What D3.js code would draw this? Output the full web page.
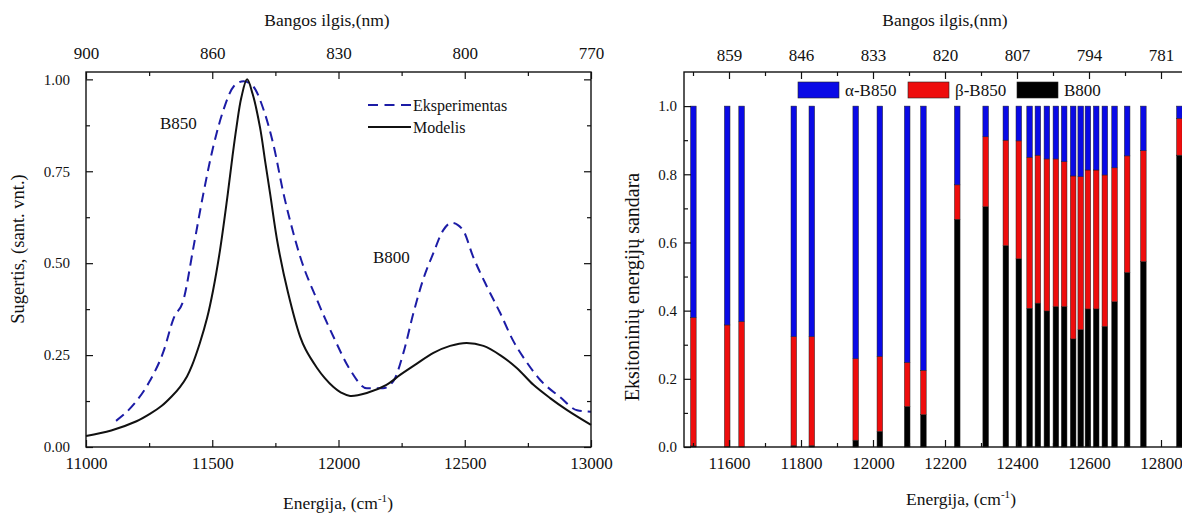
<!DOCTYPE html>
<html>
<head>
<meta charset="utf-8">
<script src="https://cdn.jsdelivr.net/npm/d3@7"></script>
<style>
  body { margin: 0; background: #fff; }
  svg text { font-family: "Times New Roman", Times, "Liberation Serif", "DejaVu Serif", "Noto Serif", serif; fill: #111; }
</style>
</head>
<body>
<svg id="mainSVG" width="1182" height="514"></svg>
<script>
// left panel: absorption spectra
let modelE = [11000, 11100, 11200, 11253, 11300, 11340, 11372, 11400, 11420, 11451, 11480, 11503, 11530, 11558, 11580, 11596, 11615, 11638, 11660, 11689, 11710, 11729, 11760, 11800, 11848, 11870, 11915, 11945, 11980, 12010, 12046, 12112, 12190, 12244, 12309, 12376, 12442, 12507, 12574, 12640, 12706, 12772, 12838, 12904, 13000]
let modelA = [0.030, 0.045, 0.070, 0.090, 0.112, 0.138, 0.163, 0.192, 0.222, 0.283, 0.352, 0.425, 0.532, 0.670, 0.790, 0.870, 0.950, 1.000, 0.960, 0.870, 0.775, 0.690, 0.550, 0.420, 0.300, 0.265, 0.215, 0.188, 0.163, 0.148, 0.139, 0.147, 0.169, 0.196, 0.226, 0.256, 0.275, 0.283, 0.275, 0.250, 0.215, 0.169, 0.133, 0.101, 0.060]
let expE = [11119, 11188, 11253, 11307, 11347, 11386, 11426, 11465, 11505, 11545, 11584, 11624, 11663, 11703, 11743, 11782, 11822, 11848, 11915, 11980, 12046, 12112, 12176, 12218, 12257, 12297, 12335, 12376, 12415, 12449, 12493, 12533, 12588, 12640, 12691, 12747, 12798, 12877, 12945, 13000]
let expA = [0.071, 0.115, 0.180, 0.260, 0.350, 0.400, 0.545, 0.690, 0.820, 0.918, 0.980, 0.995, 0.980, 0.918, 0.820, 0.690, 0.580, 0.518, 0.400, 0.300, 0.210, 0.160, 0.160, 0.180, 0.256, 0.365, 0.455, 0.528, 0.590, 0.610, 0.590, 0.518, 0.436, 0.365, 0.290, 0.229, 0.183, 0.136, 0.100, 0.096]
let leftTopTicks = [11000, 11500, 12000, 12500, 13000]
let leftTopLabels = ['900', '860', '830', '800', '770']

// right panel: exciton composition
let barE = [11501, 11595, 11635, 11780, 11830, 11952, 12019, 12095, 12140, 12234, 12313, 12369, 12405, 12435, 12458, 12483, 12508, 12531, 12556, 12577, 12597, 12620, 12644, 12671, 12706, 12751, 12851]
let b800 = [0.003, 0, 0, 0.004, 0.004, 0.020, 0.046, 0.119, 0.095, 0.668, 0.705, 0.591, 0.552, 0.407, 0.422, 0.399, 0.412, 0.412, 0.317, 0.344, 0.405, 0.405, 0.354, 0.426, 0.512, 0.544, 0.856]
let betaB850 = [0.377, 0.358, 0.368, 0.320, 0.320, 0.239, 0.220, 0.129, 0.130, 0.101, 0.205, 0.309, 0.346, 0.443, 0.434, 0.446, 0.433, 0.425, 0.478, 0.449, 0.4075, 0.4075, 0.444, 0.393, 0.342, 0.325, 0.108]
let alphaB850 = [0.620, 0.642, 0.632, 0.676, 0.676, 0.741, 0.734, 0.752, 0.775, 0.231, 0.090, 0.100, 0.102, 0.150, 0.144, 0.155, 0.155, 0.163, 0.205, 0.207, 0.1875, 0.1875, 0.202, 0.181, 0.146, 0.131, 0.036]
let rightTopTicks = [11600, 11800, 12000, 12200, 12400, 12600, 12800]
let rightTopLabels = ['859', '846', '833', '820', '807', '794', '781']

const SERIF = '"Times New Roman", Times, "Liberation Serif", "DejaVu Serif", "Noto Serif", serif'
let svg = d3.select('#mainSVG')

function frame(g, x0, x1, y0, y1){
    g.append('rect')
        .attr('x', x0).attr('y', y0)
        .attr('width', x1 - x0).attr('height', y1 - y0)
        .attr('fill', 'none').attr('stroke', '#111').attr('stroke-width', 1.4)
}

function cleanAxis(sel, fontSize){
    sel.attr('font-family', SERIF)
    sel.select('.domain').remove()
    sel.selectAll('.tick line').attr('stroke', '#111').attr('stroke-width', 1.2)
    sel.selectAll('.tick text').attr('font-size', fontSize)
}

function leftSetup(){
    let g = svg.append('g').attr('id', 'spectra')
    let x = d3.scaleLinear().domain([11000, 13000]).range([86, 591])
    let y = d3.scaleLinear().domain([0, 1.02]).range([447, 72])
    let [x0, x1] = x.range(), [y1, y0] = y.range()
    let minorX = d3.range(11250, 13000, 500)
    let minorY = d3.range(0.125, 1, 0.25)

    g.append('g').attr('transform', `translate(0,${y1})`)
        .call(d3.axisBottom(x).tickValues([11000, 11500, 12000, 12500, 13000]).tickFormat(d3.format('d')).tickSize(-7).tickPadding(10))
        .call(a => cleanAxis(a, 17))
    g.append('g').attr('transform', `translate(0,${y1})`)
        .call(d3.axisBottom(x).tickValues(minorX).tickFormat('').tickSize(-4))
        .call(a => cleanAxis(a, 17))
    g.append('g').attr('transform', `translate(0,${y0})`)
        .call(d3.axisTop(x).tickValues(leftTopTicks).tickFormat((d, i) => leftTopLabels[i]).tickSize(-7).tickPadding(13))
        .call(a => cleanAxis(a, 17))
    g.append('g').attr('transform', `translate(0,${y0})`)
        .call(d3.axisTop(x).tickValues(minorX).tickFormat('').tickSize(-4))
        .call(a => cleanAxis(a, 17))
    g.append('g').attr('transform', `translate(${x0},0)`)
        .call(d3.axisLeft(y).tickValues([0, 0.25, 0.5, 0.75, 1]).tickFormat(d3.format('.2f')).tickSize(-7).tickPadding(16))
        .call(a => cleanAxis(a, 15))
    g.append('g').attr('transform', `translate(${x0},0)`)
        .call(d3.axisLeft(y).tickValues(minorY).tickFormat('').tickSize(-4))
        .call(a => cleanAxis(a, 15))
    g.append('g').attr('transform', `translate(${x1},0)`)
        .call(d3.axisRight(y).tickValues([0, 0.25, 0.5, 0.75, 1]).tickFormat('').tickSize(-7))
        .call(a => cleanAxis(a, 15))
    g.append('g').attr('transform', `translate(${x1},0)`)
        .call(d3.axisRight(y).tickValues(minorY).tickFormat('').tickSize(-4))
        .call(a => cleanAxis(a, 15))

    g.append('path')
        .datum(expE.map((e, i) => [e, expA[i]]))
        .attr('fill', 'none').attr('stroke', '#1c1ca6').attr('stroke-width', 2)
        .attr('stroke-dasharray', '10,6')
        .attr('d', d3.line().x(d => x(d[0])).y(d => y(d[1])).curve(d3.curveMonotoneX))
    g.append('path')
        .datum(modelE.map((e, i) => [e, modelA[i]]))
        .attr('fill', 'none').attr('stroke', '#111').attr('stroke-width', 2)
        .attr('d', d3.line().x(d => x(d[0])).y(d => y(d[1])).curve(d3.curveCatmullRom.alpha(0.5)))

    frame(g, x0, x1, y0, y1)

    // legend
    g.append('line').attr('x1', 368).attr('x2', 411).attr('y1', 105).attr('y2', 105)
        .attr('stroke', '#1c1ca6').attr('stroke-width', 2).attr('stroke-dasharray', '10,6.5')
    g.append('line').attr('x1', 368).attr('x2', 411).attr('y1', 127).attr('y2', 127)
        .attr('stroke', '#111').attr('stroke-width', 2)
    g.append('text').attr('x', 413).attr('y', 111).attr('font-size', 16).text('Eksperimentas')
    g.append('text').attr('x', 413).attr('y', 133).attr('font-size', 16).text('Modelis')

    g.append('text').attr('x', 160).attr('y', 129).attr('font-size', 17).text('B850')
    g.append('text').attr('x', 373).attr('y', 263).attr('font-size', 17).text('B800')

    // titles
    g.append('text').attr('x', 327).attr('y', 26).attr('text-anchor', 'middle').attr('font-size', 17.5).text('Bangos ilgis,(nm)')
    let bt = g.append('text').attr('x', 338).attr('y', 509).attr('text-anchor', 'middle').attr('font-size', 17.5)
    bt.append('tspan').text('Energija, (cm')
    bt.append('tspan').attr('dy', -7).attr('font-size', 11).text('-1')
    bt.append('tspan').attr('dy', 7).text(')')
    g.append('text').attr('transform', 'translate(24,249) rotate(-90)')
        .attr('text-anchor', 'middle').attr('font-size', 18.5).text('Sugertis, (sant. vnt.)')
}

function rightSetup(){
    let g = svg.append('g').attr('id', 'composition')
    let x = d3.scaleLinear().domain([11475, 12875]).range([684, 1188])
    let y = d3.scaleLinear().domain([0, 1.1]).range([447, 72])
    let [x0, x1] = x.range(), [y1, y0] = y.range()
    let minorX = d3.range(11500, 12900, 200)
    let minorY = d3.range(0.1, 1.05, 0.2)

    let rows = barE.map((e, i) => ({e, b800: b800[i], beta: betaB850[i], alpha: alphaB850[i]}))
    let keys = ['b800', 'beta', 'alpha']
    let colors = {b800: '#000000', beta: '#ee0d0d', alpha: '#0a0ae6'}
    let stack = d3.stack().keys(keys)(rows)
    let bw = 5.6

    g.selectAll('g.layer')
        .data(stack)
        .join('g').attr('class', 'layer')
        .attr('fill', d => colors[d.key])
        .selectAll('rect')
        .data(d => d)
        .join('rect')
        .attr('x', d => x(d.data.e) - bw / 2)
        .attr('width', bw)
        .attr('y', d => y(d[1]))
        .attr('height', d => y(d[0]) - y(d[1]))
        .attr('stroke', '#222').attr('stroke-width', 0.5)

    g.append('g').attr('transform', `translate(0,${y1})`)
        .call(d3.axisBottom(x).tickValues(rightTopTicks).tickFormat(d3.format('d')).tickSize(-7).tickPadding(10))
        .call(a => cleanAxis(a, 17))
    g.append('g').attr('transform', `translate(0,${y1})`)
        .call(d3.axisBottom(x).tickValues(minorX).tickFormat('').tickSize(-4))
        .call(a => cleanAxis(a, 17))
    g.append('g').attr('transform', `translate(0,${y0})`)
        .call(d3.axisTop(x).tickValues(rightTopTicks).tickFormat((d, i) => rightTopLabels[i]).tickSize(-7).tickPadding(11))
        .call(a => cleanAxis(a, 17))
    g.append('g').attr('transform', `translate(0,${y0})`)
        .call(d3.axisTop(x).tickValues(minorX).tickFormat('').tickSize(-4))
        .call(a => cleanAxis(a, 17))
    g.append('g').attr('transform', `translate(${x0},0)`)
        .call(d3.axisLeft(y).tickValues([0, 0.2, 0.4, 0.6, 0.8, 1.0]).tickFormat(d3.format('.1f')).tickSize(-7).tickPadding(7))
        .call(a => cleanAxis(a, 15))
    g.append('g').attr('transform', `translate(${x0},0)`)
        .call(d3.axisLeft(y).tickValues(minorY).tickFormat('').tickSize(-4))
        .call(a => cleanAxis(a, 15))

    frame(g, x0, x1, y0, y1)

    // legend
    let legend = [['alpha', 'α-B850', 798], ['beta', 'β-B850', 908], ['b800', 'B800', 1017]]
    legend.forEach(([k, label, lx]) => {
        g.append('rect').attr('x', lx).attr('y', 82).attr('width', 41).attr('height', 16)
            .attr('fill', colors[k]).attr('stroke', '#222').attr('stroke-width', 0.6)
        g.append('text').attr('x', lx + 47).attr('y', 96).attr('font-size', 17).text(label)
    })

    // titles
    g.append('text').attr('x', 945).attr('y', 26).attr('text-anchor', 'middle').attr('font-size', 17.5).text('Bangos ilgis,(nm)')
    let bt = g.append('text').attr('x', 961).attr('y', 505).attr('text-anchor', 'middle').attr('font-size', 17.5)
    bt.append('tspan').text('Energija, (cm')
    bt.append('tspan').attr('dy', -7).attr('font-size', 11).text('-1')
    bt.append('tspan').attr('dy', 7).text(')')
    g.append('text').attr('transform', 'translate(639,287) rotate(-90)')
        .attr('text-anchor', 'middle').attr('font-size', 20).text('Eksitoninių energijų sandara')
}

leftSetup()
rightSetup()
svg.selectAll('text').attr('font-family', SERIF)
</script>
</body>
</html>
